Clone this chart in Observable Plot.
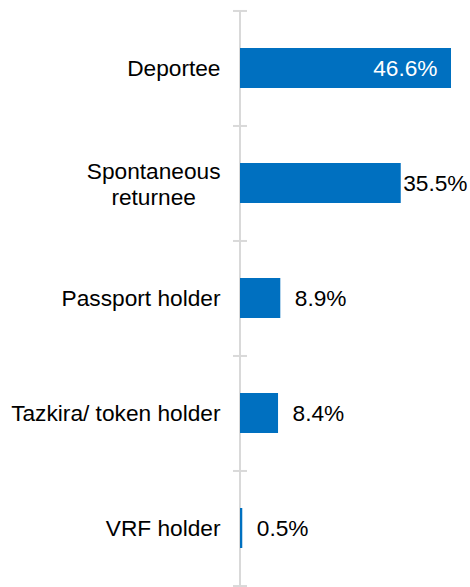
<!DOCTYPE html>
<html>
<head>
<meta charset="utf-8">
<script src="https://cdn.jsdelivr.net/npm/d3@7"></script>
<script src="https://cdn.jsdelivr.net/npm/@observablehq/plot@0.6"></script>
<style>
  html, body { margin: 0; padding: 0; background: #fff; }
  #chart svg { display: block; }
</style>
</head>
<body>
<div id="chart"></div>
<script>
const categories = ["Deportee", "Spontaneous returnee", "Passport holder", "Tazkira/ token holder", "VRF holder"];
const tickLabels = ["Deportee", "Spontaneous\nreturnee", "Passport holder", "Tazkira/ token holder", "VRF holder"];
const values = [46.6, 35.5, 8.9, 8.4, 0.5];
const valueLabels = ["46.6%", "35.5%", "8.9%", "8.4%", "0.5%"];

const W = 470, H = 587;
const mL = 240, mR = 19, mT = 10, mB = 1.5;
const fontSize = 22.7;
const fontFamily = "'Liberation Sans', Arial, sans-serif";
const xMax = d3.max(values);
const ppu = (W - mL - mR) / xMax;
const step = (H - mT - mB) / categories.length;

const canvas = document.createElement("canvas");
const ctx = canvas.getContext("2d");
ctx.font = `${fontSize}px 'Liberation Sans'`;
const textW = s => ctx.measureText(s).width;

const data = categories.map((c, i) => ({
  cat: c, label: tickLabels[i], value: values[i], vl: valueLabels[i],
  multi: tickLabels[i].includes("\n")
}));
data.forEach(d => {
  d.inside = d.value * ppu + textW(d.vl) > W - mL - 3;
  d.overflow = !d.inside && (d.value * ppu + 14 + textW(d.vl) > W - mL - 3);
});

const tickLen = 7 / ppu;

const chart = Plot.plot({
  width: W,
  height: H,
  marginLeft: mL,
  marginRight: mR,
  marginTop: mT,
  marginBottom: mB,
  style: { fontFamily, fontSize: fontSize + "px", background: "#fff" },
  x: { domain: [0, xMax], axis: null },
  y: { domain: categories, axis: null, paddingInner: 0.652, paddingOuter: 0.326 },
  marks: [
    Plot.ruleX([0], { stroke: "#d9d9d9", strokeWidth: 2, dx: -0.5 }),
    Plot.ruleY(categories, { y: d => d, x1: -tickLen, x2: tickLen, dy: -step / 2, stroke: "#d9d9d9", strokeWidth: 2 }),
    Plot.ruleY(categories.slice(-1), { y: d => d, x1: -tickLen, x2: tickLen, dy: step / 2, stroke: "#d9d9d9", strokeWidth: 2 }),
    Plot.barX(data, { y: "cat", x: "value", fill: "#0070C0" }),
    // category labels
    Plot.text(data.filter(d => !d.multi), { y: "cat", x: 0, text: "label", textAnchor: "end", dx: -20, fill: "#000" }),
    Plot.text(data.filter(d => d.multi), { y: "cat", x: 0, text: "label", textAnchor: "middle", lineHeight: 1.18, dx: -20 - d3.max(data.filter(d => d.multi), d => d3.max(d.label.split("\n"), textW)) / 2, fill: "#000" }),
    // value labels
    Plot.text(data.filter(d => d.inside), { y: "cat", x: "value", text: "vl", textAnchor: "end", dx: -14, fill: "#fff" }),
    Plot.text(data.filter(d => !d.inside && !d.overflow), { y: "cat", x: "value", text: "vl", textAnchor: "start", dx: 14, fill: "#000" }),
    Plot.text(data.filter(d => d.overflow), { y: "cat", frameAnchor: "right", text: "vl", textAnchor: "end", dx: mR - 3, fill: "#000" })
  ]
});
document.getElementById("chart").appendChild(chart);
</script>
</body>
</html>
